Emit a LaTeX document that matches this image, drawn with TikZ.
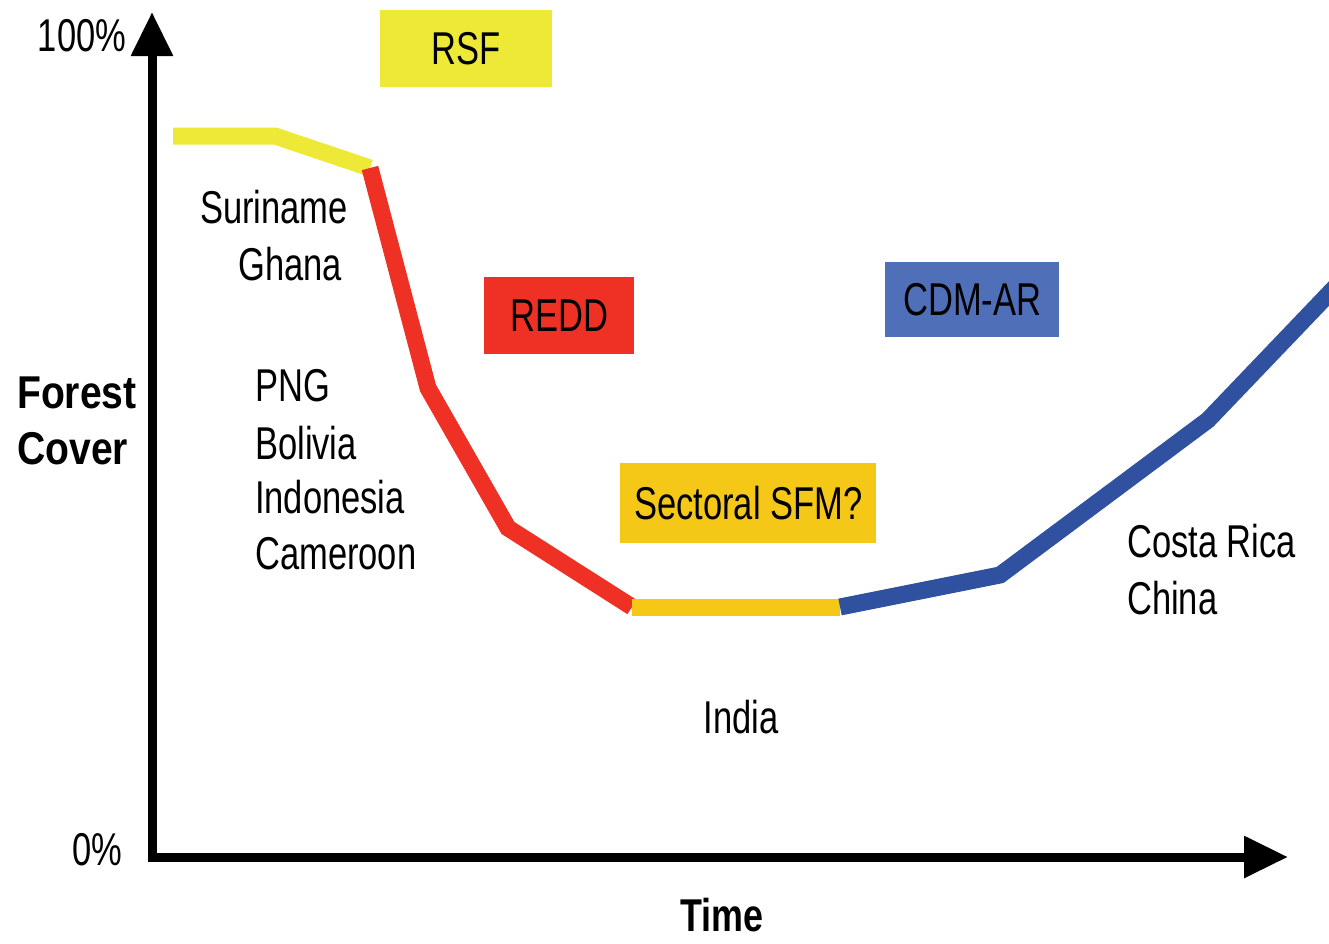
\documentclass[tikz,border=0pt]{standalone}
\usepackage{fontspec}
\setmainfont{Liberation Sans}
\newfontfamily\narrowfont[FakeStretch=0.75]{Liberation Sans}
\newfontfamily\narrowbold[FakeStretch=0.85]{Liberation Sans Bold}
\newfontfamily\timebold[FakeStretch=0.78]{Liberation Sans Bold}
\usetikzlibrary{arrows.meta}
\definecolor{rsfyellow}{HTML}{EEE937}
\definecolor{reddred}{HTML}{EE3124}
\definecolor{sfmgold}{HTML}{F5C818}
\definecolor{cdmblue}{HTML}{4F6FB8}
\definecolor{lineblue}{HTML}{3050A0}
\begin{document}
\begin{tikzpicture}[x=1pt,y=-1pt,
  lbl/.style={font=\narrowfont\fontsize{46}{55}\selectfont, inner sep=0pt},
  boldlbl/.style={font=\narrowbold\fontsize{46}{55}\selectfont, inner sep=0pt},
  tag/.style={lbl, minimum height=77pt, anchor=north west},
  axis/.style={line width=9pt, -{Triangle[length=44pt,width=40pt]}},
  curve/.style={line width=17pt, line join=miter}
]
\path[use as bounding box] (0,0) rectangle (1329,943);
% axes
\coordinate (origin) at (152,857);
\coordinate (ytip) at (152,12);
\coordinate (xtip) at (1288,857);
\draw[axis] (152,861.5) -- (ytip);
\draw[axis] (147.5,857) -- (xtip);
% curve
\coordinate (p1) at (173,136);
\coordinate (p2) at (275,136);
\coordinate (p3) at (370,168);
\coordinate (p4) at (428,388);
\coordinate (p5) at (508,528);
\coordinate (p6) at (632,607);
\coordinate (p7) at (840,607);
\coordinate (p8) at (1000,575);
\coordinate (p9) at (1208,420);
\coordinate (p10) at (1340,282);
\draw[curve, rsfyellow] (p1) -- (p2) -- (p3);
\draw[curve, reddred] (p3) -- (p4) -- (p5) -- (p6);
\draw[curve, sfmgold] (p6) -- (p7);
\draw[curve, lineblue] (p7) -- (p8) -- (p9) -- (p10);
% boxes
\node[tag, fill=rsfyellow, minimum width=172pt] (rsf) at (380,10) {RSF};
\node[tag, fill=reddred, minimum width=150pt] (redd) at (484,277) {REDD};
\node[tag, fill=cdmblue, minimum width=174pt, minimum height=75pt] (cdm) at (885,262) {CDM-AR};
\node[tag, fill=sfmgold, minimum width=256pt, minimum height=80pt] (sfm) at (620,463) {Sectoral SFM?};
% axis labels
\node[lbl] (hundred) at (82,36) {100\%};
\node[lbl] (zero) at (97,850) {0\%};
\node[boldlbl, anchor=west] (forest) at (17,393) {Forest};
\node[boldlbl, anchor=west] (cover) at (17,449) {Cover};
\node[boldlbl, font=\timebold\fontsize{46}{55}\selectfont] (time) at (722,915) {Time};
% country labels
\node[lbl, anchor=west] (suriname) at (200,207) {Suriname};
\node[lbl, anchor=west] (ghana) at (238,264) {Ghana};
\node[lbl, anchor=west] (png) at (255,386) {PNG};
\node[lbl, anchor=west] (bolivia) at (255,443) {Bolivia};
\node[lbl, anchor=west] (indonesia) at (255,497) {Indonesia};
\node[lbl, anchor=west] (cameroon) at (255,554) {Cameroon};
\node[lbl] (india) at (741,717) {India};
\node[lbl, anchor=west] (costarica) at (1127,541) {Costa Rica};
\node[lbl, anchor=west] (china) at (1127,598) {China};
\end{tikzpicture}
\end{document}
